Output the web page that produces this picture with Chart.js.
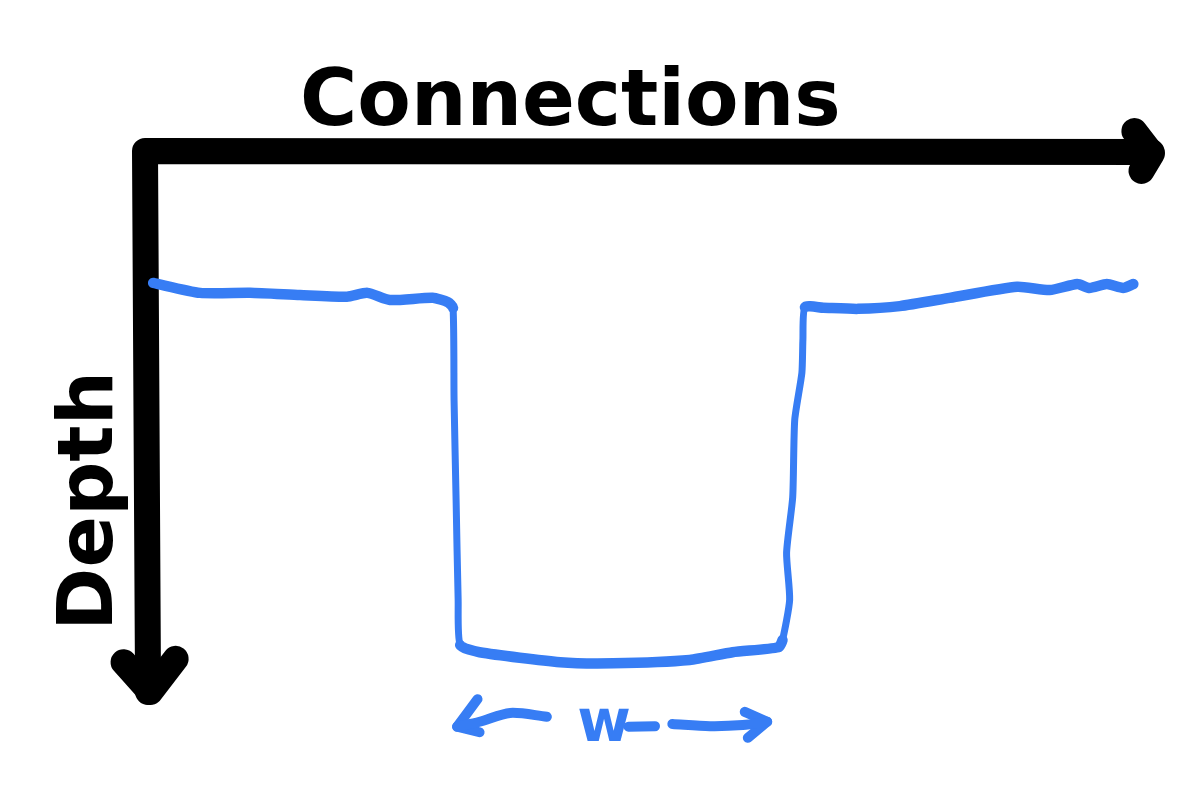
<!DOCTYPE html>
<html>
<head>
<meta charset="utf-8">
<script src="https://cdn.jsdelivr.net/npm/chart.js@4.4.1/dist/chart.umd.min.js"></script>
<style>
  html, body { margin: 0; padding: 0; background: #ffffff; }
  #wrap { width: 1192px; height: 810px; position: relative; }
</style>
</head>
<body>
<div id="wrap"><canvas id="c"></canvas></div>
<script>
// ---- Data (connections 0..100 along the top axis, depth 0..100 downward) ----
const profileConnections = [0.8,5.4,10.3,15.2,19.8,21.8,24.0,28.2,29.7,30.2,30.3,30.5,30.7,30.9,32.8,40.7,45.9,53.4,57.6,62.1,62.5,63.2,62.9,63.5,63.7,64.4,64.5,64.7,66.5,69.9,74.0,78.9,85.5,88.7,91.4,92.6,94.3,95.9,96.9];
const profileDepth       = [23.9,25.7,25.7,26.1,26.4,25.7,27.0,26.6,27.4,28.4,45.1,63.2,81.3,89.5,90.8,92.6,92.8,92.2,90.8,89.9,88.6,81.3,72.8,62.7,48.7,40.2,34.2,28.3,28.4,28.6,28.1,26.6,24.6,25.2,24.1,24.8,24.1,24.8,24.1];

// axis arrows
const axisShaftX = [98.7, 0, 0.3];
const axisShaftY = [0.2, 0, 98.0];
const xHeadX = [97.0, 98.7, 97.7];
const xHeadY = [-3.6, 0.5, 3.6];
const yHeadX = [-2.1, 0.5, 3.0];
const yHeadY = [92.6, 98.0, 92.0];

// width marker "<- w ->"
const wLeftShaftX = [39.4, 35.8, 32.8, 30.6];
const wLeftShaftY = [102.5, 101.8, 103.4, 104.3];
const wLeftHeadX = [32.6, 30.6, 32.8];
const wLeftHeadY = [99.3, 104.3, 105.3];
const wRightShaftX = [51.7, 55.4, 58.6, 61.0];
const wRightShaftY = [103.8, 104.2, 104.0, 103.4];
const wRightHeadX = [58.8, 61.0, 59.1];
const wRightHeadY = [101.6, 103.4, 106.3];
const wTailX = [47.4, 50.0];
const wTailY = [104.3, 104.2];

// text labels
const labelTexts = ["Connections", "Depth", "w"];
const labelX = [41.7, -3.2, 45.0];
const labelY = [-4.7, 63.4, 104.2];

const BLUE = '#377DF4';
const BLACK = '#000000';

function pts(xs, ys) { return xs.map((x, i) => ({ x: x, y: ys[i] })); }
function stroke(label, xs, ys, color, width, tension) {
  return {
    label: label, data: pts(xs, ys), borderColor: color, backgroundColor: color,
    borderWidth: width, pointRadius: 0, pointHoverRadius: 0, fill: false,
    tension: tension || 0, borderCapStyle: 'round', borderJoinStyle: 'round', clip: false
  };
}

const profile = stroke('Depth profile', profileConnections, profileDepth, BLUE, 10, 0.2);
// thinner strokes on the steep (vertical) walls, like the sketch
profile.segment = {
  borderWidth: ctx => {
    const a = ctx.p0.parsed, b = ctx.p1.parsed;
    return Math.abs(b.y - a.y) > 5 ? 7 : 10.5;
  }
};

const labelPlugin = {
  id: 'sketchLabels',
  afterDatasetsDraw(chart) {
    const ctx = chart.ctx, xs = chart.scales.x, ys = chart.scales.y;
    const styles = [
      { font: 'bold 78px "DejaVu Sans"', color: BLACK, rot: 0, align: 'center', base: 'alphabetic' },
      { font: 'bold 76px "DejaVu Sans"', color: BLACK, rot: -Math.PI / 2, align: 'center', base: 'alphabetic' },
      { font: 'bold 58px "DejaVu Sans"', color: BLUE, rot: 0, align: 'center', base: 'middle' }
    ];
    labelTexts.forEach((t, i) => {
      const s = styles[i];
      ctx.save();
      ctx.translate(xs.getPixelForValue(labelX[i]), ys.getPixelForValue(labelY[i]));
      ctx.rotate(s.rot);
      ctx.font = s.font;
      ctx.fillStyle = s.color;
      ctx.textAlign = s.align;
      ctx.textBaseline = s.base;
      ctx.fillText(t, 0, 0);
      ctx.restore();
    });
  }
};

new Chart(document.getElementById('c'), {
  type: 'line',
  data: {
    datasets: [
      profile,
      stroke('axes', axisShaftX, axisShaftY, BLACK, 26),
      stroke('x arrow', xHeadX, xHeadY, BLACK, 26),
      stroke('y arrow', yHeadX, yHeadY, BLACK, 26),
      stroke('w left', wLeftShaftX, wLeftShaftY, BLUE, 10, 0.3),
      stroke('w left head', wLeftHeadX, wLeftHeadY, BLUE, 10),
      stroke('w right', wRightShaftX, wRightShaftY, BLUE, 10, 0.3),
      stroke('w right head', wRightHeadX, wRightHeadY, BLUE, 10),
      stroke('w tail', wTailX, wTailY, BLUE, 10)
    ]
  },
  options: {
    responsive: true,
    maintainAspectRatio: false,
    animation: false,
    devicePixelRatio: 1,
    layout: { padding: 0 },
    plugins: { legend: { display: false }, tooltip: { enabled: false }, title: { display: false } },
    scales: {
      x: { type: 'linear', display: false, min: -14.216, max: 102.647 },
      y: { type: 'linear', display: false, reverse: true, min: -27.355, max: 119.384 }
    }
  },
  plugins: [labelPlugin]
});
</script>
</body>
</html>
